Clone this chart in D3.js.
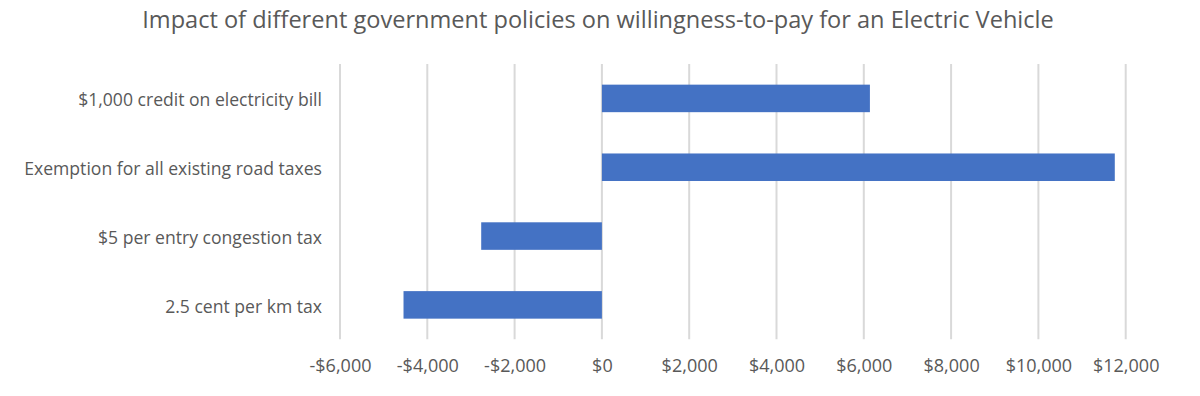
<!DOCTYPE html>
<html><head><meta charset="utf-8">
<script src="https://cdn.jsdelivr.net/npm/d3@7"></script>
<style>body{margin:0;background:#fff;} svg{display:block;}</style>
</head><body>
<svg id="chart" width="1200" height="396"></svg>
<script>
const categories = ["$1,000 credit on electricity bill","Exemption for all existing road taxes","$5 per entry congestion tax","2.5 cent per km tax"];
const values = [6140, 11750, -2765, -4545];
const tickValues = [-6000,-4000,-2000,0,2000,4000,6000,8000,10000,12000];
const title = "Impact of different government policies on willingness-to-pay for an Electric Vehicle";

const svg = d3.select("#chart");
const font = "'Open Sans', Lato, sans-serif";
const textColor = "#595959";

const x = d3.scaleLinear().domain([-6000, 12000]).range([340, 1125.7]);
const y = d3.scaleBand().domain(categories).range([64, 339.3]).paddingInner(0.6).paddingOuter(0.3);

// gridlines
svg.append("g").selectAll("line").data(tickValues).join("line")
  .attr("x1", d => x(d)).attr("x2", d => x(d))
  .attr("y1", 64).attr("y2", 339.3)
  .attr("stroke", "#d9d9d9").attr("stroke-width", 2);

// bars
svg.append("g").selectAll("rect").data(values).join("rect")
  .attr("x", d => Math.min(x(0), x(d)))
  .attr("width", d => Math.abs(x(d) - x(0)))
  .attr("y", (d, i) => y(categories[i]))
  .attr("height", y.bandwidth())
  .attr("fill", "#4472C4");

// x axis labels
const fmt = d => (d < 0 ? "-$" : "$") + d3.format(",")(Math.abs(d));
const xAxis = d3.axisBottom(x).tickValues(tickValues).tickFormat(fmt).tickSize(0).tickPadding(0);
const gx = svg.append("g").attr("transform", "translate(0,371.5)").call(xAxis);
gx.select(".domain").remove();
gx.selectAll("text").attr("font-family", font).attr("font-size", 16).attr("fill", textColor).attr("dy", "0");

// y axis labels
const yAxis = d3.axisLeft(y).tickSize(0).tickPadding(0);
const gy = svg.append("g").attr("transform", "translate(322,0)").call(yAxis);
gy.select(".domain").remove();
gy.selectAll("text").attr("font-family", font).attr("font-size", 16).attr("fill", textColor).attr("dy", "0.45em");

// fit widths to reference
function fit(sel, target) {
  sel.each(function() {
    const w = this.getComputedTextLength();
    const fs = parseFloat(this.getAttribute("font-size"));
    this.setAttribute("font-size", (fs * target / w).toFixed(2));
  });
}
fit(gy.selectAll("text").filter(d => d === categories[1]), 298);
const yfs = gy.selectAll("text").filter(d => d === categories[1]).attr("font-size");
gy.selectAll("text").attr("font-size", yfs);
fit(gx.selectAll("text").filter(d => d === -6000), 62);
const xfs = gx.selectAll("text").filter(d => d === -6000).attr("font-size");
gx.selectAll("text").attr("font-size", xfs);

// title
const t = svg.append("text").attr("x", 598).attr("y", 27.5).attr("text-anchor", "middle")
  .attr("font-family", font).attr("font-size", 22).attr("fill", textColor).text(title);
fit(t, 912);
</script>
</body></html>
